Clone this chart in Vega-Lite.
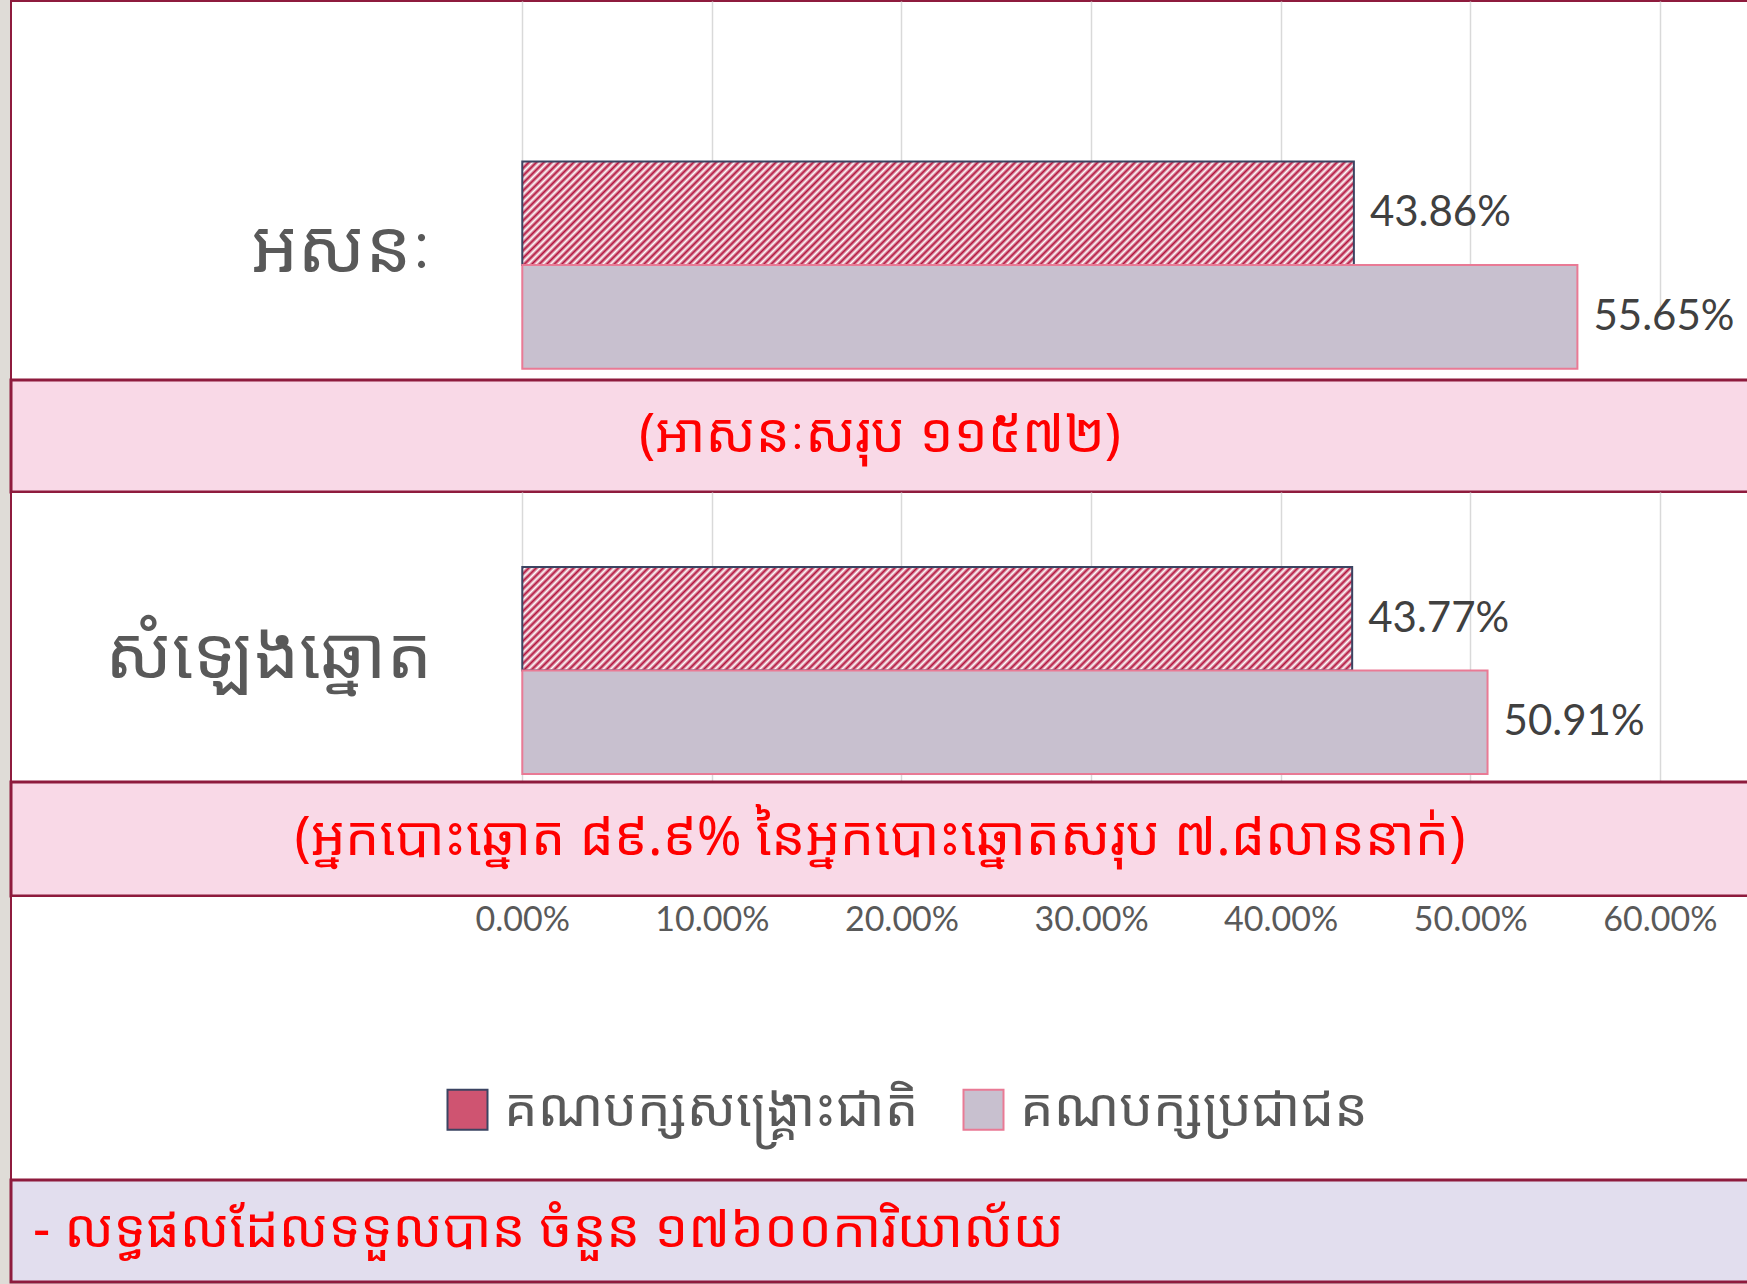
{
  "$schema": "https://vega.github.io/schema/vega-lite/v6.json",
  "background": "#dfdcd7",
  "padding": {"left": 9, "top": 0, "right": 0, "bottom": 0},
  "spacing": 0,
  "bounds": "flush",
  "datasets": {
    "results": [
      {"category": "អសនៈ", "party": "គណបក្សសង្គ្រោះជាតិ", "share": 0.4386},
      {"category": "អសនៈ", "party": "គណបក្សប្រជាជន", "share": 0.5565},
      {"category": "សំឡេងឆ្នោត", "party": "គណបក្សសង្គ្រោះជាតិ", "share": 0.4377},
      {"category": "សំឡេងឆ្នោត", "party": "គណបក្សប្រជាជន", "share": 0.5091}
    ],
    "notes": [
      {"slot": "seats", "text": "(អាសនៈសរុប ១១៥៧២)"},
      {"slot": "votes", "text": "(អ្នកបោះឆ្នោត ៨៩.៩% នៃអ្នកបោះឆ្នោតសរុប ៧.៨លាននាក់)"},
      {"slot": "footer", "text": "- លទ្ធផលដែលទទួលបាន ចំនួន ១៧៦០០ការិយាល័យ"}
    ]
  },
  "vconcat": [
    {
      "width": 1738,
      "height": 379,
      "view": {"fill": "#ffffff", "stroke": "#8e1b3d", "strokeWidth": 2},
      "data": {"name": "results"},
      "transform": [{"filter": "datum.category === 'អសនៈ'"}],
      "encoding": {
        "y": {"field": "party", "type": "nominal", "axis": null,
          "scale": {"domain": ["គណបក្សសង្គ្រោះជាតិ", "គណបក្សប្រជាជន"], "range": [63.5, 379], "paddingInner": 0, "paddingOuter": 0.522, "align": 0.896}},
        "x": {"field": "share", "type": "quantitative",
          "scale": {"domain": [-0.26967, 0.647], "nice": false},
          "axis": {"values": [0, 0.1, 0.2, 0.3, 0.4, 0.5, 0.6], "grid": true, "labels": false, "ticks": false, "domain": false, "title": null, "gridColor": "#d9d9d9", "gridWidth": 1.5}}
      },
      "layer": [
        {
          "transform": [{"filter": "datum.party === 'គណបក្សសង្គ្រោះជាតិ'"}],
          "mark": {"type": "bar", "strokeWidth": 2,
            "fill": {
              "gradient": "linear", "x1": 0, "y1": 0, "x2": 1.1074, "y2": 0.138,
              "stops": [
                {"offset":0,"color":"#b3123c"},{"offset":0.004,"color":"#fff"},{"offset":0.008,"color":"#b3123c"},{"offset":0.012,"color":"#fff"},{"offset":0.016,"color":"#b3123c"},{"offset":0.02,"color":"#fff"},{"offset":0.024,"color":"#b3123c"},{"offset":0.028,"color":"#fff"},{"offset":0.032,"color":"#b3123c"},{"offset":0.036,"color":"#fff"},
                {"offset":0.04,"color":"#b3123c"},{"offset":0.044,"color":"#fff"},{"offset":0.048,"color":"#b3123c"},{"offset":0.052,"color":"#fff"},{"offset":0.056,"color":"#b3123c"},{"offset":0.06,"color":"#fff"},{"offset":0.064,"color":"#b3123c"},{"offset":0.068,"color":"#fff"},{"offset":0.072,"color":"#b3123c"},{"offset":0.076,"color":"#fff"},
                {"offset":0.08,"color":"#b3123c"},{"offset":0.084,"color":"#fff"},{"offset":0.088,"color":"#b3123c"},{"offset":0.092,"color":"#fff"},{"offset":0.096,"color":"#b3123c"},{"offset":0.1,"color":"#fff"},{"offset":0.104,"color":"#b3123c"},{"offset":0.108,"color":"#fff"},{"offset":0.112,"color":"#b3123c"},{"offset":0.116,"color":"#fff"},
                {"offset":0.12,"color":"#b3123c"},{"offset":0.124,"color":"#fff"},{"offset":0.128,"color":"#b3123c"},{"offset":0.132,"color":"#fff"},{"offset":0.136,"color":"#b3123c"},{"offset":0.14,"color":"#fff"},{"offset":0.144,"color":"#b3123c"},{"offset":0.148,"color":"#fff"},{"offset":0.152,"color":"#b3123c"},{"offset":0.156,"color":"#fff"},
                {"offset":0.16,"color":"#b3123c"},{"offset":0.164,"color":"#fff"},{"offset":0.168,"color":"#b3123c"},{"offset":0.172,"color":"#fff"},{"offset":0.176,"color":"#b3123c"},{"offset":0.18,"color":"#fff"},{"offset":0.184,"color":"#b3123c"},{"offset":0.188,"color":"#fff"},{"offset":0.192,"color":"#b3123c"},{"offset":0.196,"color":"#fff"},
                {"offset":0.2,"color":"#b3123c"},{"offset":0.204,"color":"#fff"},{"offset":0.208,"color":"#b3123c"},{"offset":0.212,"color":"#fff"},{"offset":0.216,"color":"#b3123c"},{"offset":0.22,"color":"#fff"},{"offset":0.224,"color":"#b3123c"},{"offset":0.228,"color":"#fff"},{"offset":0.232,"color":"#b3123c"},{"offset":0.236,"color":"#fff"},
                {"offset":0.24,"color":"#b3123c"},{"offset":0.244,"color":"#fff"},{"offset":0.248,"color":"#b3123c"},{"offset":0.252,"color":"#fff"},{"offset":0.256,"color":"#b3123c"},{"offset":0.26,"color":"#fff"},{"offset":0.264,"color":"#b3123c"},{"offset":0.268,"color":"#fff"},{"offset":0.272,"color":"#b3123c"},{"offset":0.276,"color":"#fff"},
                {"offset":0.28,"color":"#b3123c"},{"offset":0.284,"color":"#fff"},{"offset":0.288,"color":"#b3123c"},{"offset":0.292,"color":"#fff"},{"offset":0.296,"color":"#b3123c"},{"offset":0.3,"color":"#fff"},{"offset":0.304,"color":"#b3123c"},{"offset":0.308,"color":"#fff"},{"offset":0.312,"color":"#b3123c"},{"offset":0.316,"color":"#fff"},
                {"offset":0.32,"color":"#b3123c"},{"offset":0.324,"color":"#fff"},{"offset":0.328,"color":"#b3123c"},{"offset":0.332,"color":"#fff"},{"offset":0.336,"color":"#b3123c"},{"offset":0.34,"color":"#fff"},{"offset":0.344,"color":"#b3123c"},{"offset":0.348,"color":"#fff"},{"offset":0.352,"color":"#b3123c"},{"offset":0.356,"color":"#fff"},
                {"offset":0.36,"color":"#b3123c"},{"offset":0.364,"color":"#fff"},{"offset":0.368,"color":"#b3123c"},{"offset":0.372,"color":"#fff"},{"offset":0.376,"color":"#b3123c"},{"offset":0.38,"color":"#fff"},{"offset":0.384,"color":"#b3123c"},{"offset":0.388,"color":"#fff"},{"offset":0.392,"color":"#b3123c"},{"offset":0.396,"color":"#fff"},
                {"offset":0.4,"color":"#b3123c"},{"offset":0.404,"color":"#fff"},{"offset":0.408,"color":"#b3123c"},{"offset":0.412,"color":"#fff"},{"offset":0.416,"color":"#b3123c"},{"offset":0.42,"color":"#fff"},{"offset":0.424,"color":"#b3123c"},{"offset":0.428,"color":"#fff"},{"offset":0.432,"color":"#b3123c"},{"offset":0.436,"color":"#fff"},
                {"offset":0.44,"color":"#b3123c"},{"offset":0.444,"color":"#fff"},{"offset":0.448,"color":"#b3123c"},{"offset":0.452,"color":"#fff"},{"offset":0.456,"color":"#b3123c"},{"offset":0.46,"color":"#fff"},{"offset":0.464,"color":"#b3123c"},{"offset":0.468,"color":"#fff"},{"offset":0.472,"color":"#b3123c"},{"offset":0.476,"color":"#fff"},
                {"offset":0.48,"color":"#b3123c"},{"offset":0.484,"color":"#fff"},{"offset":0.488,"color":"#b3123c"},{"offset":0.492,"color":"#fff"},{"offset":0.496,"color":"#b3123c"},{"offset":0.5,"color":"#fff"},{"offset":0.504,"color":"#b3123c"},{"offset":0.508,"color":"#fff"},{"offset":0.512,"color":"#b3123c"},{"offset":0.516,"color":"#fff"},
                {"offset":0.52,"color":"#b3123c"},{"offset":0.524,"color":"#fff"},{"offset":0.528,"color":"#b3123c"},{"offset":0.532,"color":"#fff"},{"offset":0.536,"color":"#b3123c"},{"offset":0.54,"color":"#fff"},{"offset":0.544,"color":"#b3123c"},{"offset":0.548,"color":"#fff"},{"offset":0.552,"color":"#b3123c"},{"offset":0.556,"color":"#fff"},
                {"offset":0.56,"color":"#b3123c"},{"offset":0.564,"color":"#fff"},{"offset":0.568,"color":"#b3123c"},{"offset":0.572,"color":"#fff"},{"offset":0.576,"color":"#b3123c"},{"offset":0.58,"color":"#fff"},{"offset":0.584,"color":"#b3123c"},{"offset":0.588,"color":"#fff"},{"offset":0.592,"color":"#b3123c"},{"offset":0.596,"color":"#fff"},
                {"offset":0.6,"color":"#b3123c"},{"offset":0.604,"color":"#fff"},{"offset":0.608,"color":"#b3123c"},{"offset":0.612,"color":"#fff"},{"offset":0.616,"color":"#b3123c"},{"offset":0.62,"color":"#fff"},{"offset":0.624,"color":"#b3123c"},{"offset":0.628,"color":"#fff"},{"offset":0.632,"color":"#b3123c"},{"offset":0.636,"color":"#fff"},
                {"offset":0.64,"color":"#b3123c"},{"offset":0.644,"color":"#fff"},{"offset":0.648,"color":"#b3123c"},{"offset":0.652,"color":"#fff"},{"offset":0.656,"color":"#b3123c"},{"offset":0.66,"color":"#fff"},{"offset":0.664,"color":"#b3123c"},{"offset":0.668,"color":"#fff"},{"offset":0.672,"color":"#b3123c"},{"offset":0.676,"color":"#fff"},
                {"offset":0.68,"color":"#b3123c"},{"offset":0.684,"color":"#fff"},{"offset":0.688,"color":"#b3123c"},{"offset":0.692,"color":"#fff"},{"offset":0.696,"color":"#b3123c"},{"offset":0.7,"color":"#fff"},{"offset":0.704,"color":"#b3123c"},{"offset":0.708,"color":"#fff"},{"offset":0.712,"color":"#b3123c"},{"offset":0.716,"color":"#fff"},
                {"offset":0.72,"color":"#b3123c"},{"offset":0.724,"color":"#fff"},{"offset":0.728,"color":"#b3123c"},{"offset":0.732,"color":"#fff"},{"offset":0.736,"color":"#b3123c"},{"offset":0.74,"color":"#fff"},{"offset":0.744,"color":"#b3123c"},{"offset":0.748,"color":"#fff"},{"offset":0.752,"color":"#b3123c"},{"offset":0.756,"color":"#fff"},
                {"offset":0.76,"color":"#b3123c"},{"offset":0.764,"color":"#fff"},{"offset":0.768,"color":"#b3123c"},{"offset":0.772,"color":"#fff"},{"offset":0.776,"color":"#b3123c"},{"offset":0.78,"color":"#fff"},{"offset":0.784,"color":"#b3123c"},{"offset":0.788,"color":"#fff"},{"offset":0.792,"color":"#b3123c"},{"offset":0.796,"color":"#fff"},
                {"offset":0.8,"color":"#b3123c"},{"offset":0.804,"color":"#fff"},{"offset":0.808,"color":"#b3123c"},{"offset":0.812,"color":"#fff"},{"offset":0.816,"color":"#b3123c"},{"offset":0.82,"color":"#fff"},{"offset":0.824,"color":"#b3123c"},{"offset":0.828,"color":"#fff"},{"offset":0.832,"color":"#b3123c"},{"offset":0.836,"color":"#fff"},
                {"offset":0.84,"color":"#b3123c"},{"offset":0.844,"color":"#fff"},{"offset":0.848,"color":"#b3123c"},{"offset":0.852,"color":"#fff"},{"offset":0.856,"color":"#b3123c"},{"offset":0.86,"color":"#fff"},{"offset":0.864,"color":"#b3123c"},{"offset":0.868,"color":"#fff"},{"offset":0.872,"color":"#b3123c"},{"offset":0.876,"color":"#fff"},
                {"offset":0.88,"color":"#b3123c"},{"offset":0.884,"color":"#fff"},{"offset":0.888,"color":"#b3123c"},{"offset":0.892,"color":"#fff"},{"offset":0.896,"color":"#b3123c"},{"offset":0.9,"color":"#fff"},{"offset":0.904,"color":"#b3123c"},{"offset":0.908,"color":"#fff"},{"offset":0.912,"color":"#b3123c"},{"offset":0.916,"color":"#fff"},
                {"offset":0.92,"color":"#b3123c"},{"offset":0.924,"color":"#fff"},{"offset":0.928,"color":"#b3123c"},{"offset":0.932,"color":"#fff"},{"offset":0.936,"color":"#b3123c"},{"offset":0.94,"color":"#fff"},{"offset":0.944,"color":"#b3123c"},{"offset":0.948,"color":"#fff"},{"offset":0.952,"color":"#b3123c"},{"offset":0.956,"color":"#fff"},
                {"offset":0.96,"color":"#b3123c"},{"offset":0.964,"color":"#fff"},{"offset":0.968,"color":"#b3123c"},{"offset":0.972,"color":"#fff"},{"offset":0.976,"color":"#b3123c"},{"offset":0.98,"color":"#fff"},{"offset":0.984,"color":"#b3123c"},{"offset":0.988,"color":"#fff"},{"offset":0.992,"color":"#b3123c"},{"offset":0.996,"color":"#fff"},
                {"offset":1,"color":"#b3123c"}
              ]
            }
          },
          "encoding": {
            "stroke": {"field": "party", "type": "nominal",
              "scale": {"domain": ["គណបក្សសង្គ្រោះជាតិ", "គណបក្សប្រជាជន"], "range": ["#3b4462", "#e97a95"]},
              "legend": {"orient": "none", "legendX": 430, "legendY": 1082, "direction": "horizontal", "title": null, "symbolType": "square", "symbolSize": 1600, "symbolStrokeWidth": 2, "symbolOpacity": 1, "labelFont": "Noto Sans Khmer, Noto Serif Khmer, Khmer OS, Hanuman, sans-serif", "labelFontSize": 53, "labelColor": "#595959", "labelLimit": 1000, "labelOffset": 10, "columnPadding": 38, "padding": 0}}
          }
        },
        {
          "transform": [{"filter": "datum.party === 'គណបក្សប្រជាជន'"}],
          "mark": {"type": "bar", "strokeWidth": 2},
          "encoding": {
            "fill": {"field": "party", "type": "nominal",
              "scale": {"domain": ["គណបក្សសង្គ្រោះជាតិ", "គណបក្សប្រជាជន"], "range": ["#cf5471", "#c8c0cf"]},
              "legend": {"orient": "none", "legendX": 430, "legendY": 1082, "direction": "horizontal", "title": null, "symbolType": "square", "symbolSize": 1600, "symbolStrokeWidth": 2, "symbolOpacity": 1, "labelFont": "Noto Sans Khmer, Noto Serif Khmer, Khmer OS, Hanuman, sans-serif", "labelFontSize": 53, "labelColor": "#595959", "labelLimit": 1000, "labelOffset": 10, "columnPadding": 38, "padding": 0}},
            "stroke": {"field": "party", "type": "nominal"}
          }
        },
        {
          "mark": {"type": "text", "align": "left", "baseline": "middle", "dx": 16, "font": "Lato", "fontSize": 42, "color": "#404040"},
          "encoding": {"text": {"field": "share", "type": "quantitative", "format": ".2%"}}
        },
        {
          "transform": [{"filter": "datum.party === 'គណបក្សសង្គ្រោះជាតិ'"}],
          "mark": {"type": "text", "align": "right", "baseline": "middle", "dx": -90, "dy": -15, "font": "Noto Sans Khmer, Noto Serif Khmer, Khmer OS, Hanuman, sans-serif", "fontSize": 73, "color": "#595959"},
          "encoding": {
            "x": {"datum": 0, "type": "quantitative"},
            "y": {"field": "party", "type": "nominal", "bandPosition": 1, "axis": null},
            "text": {"field": "category", "type": "nominal"}
          }
        }
      ]
    },
    {
      "width": 1738,
      "height": 112,
      "view": {"fill": "#f9d9e7", "stroke": "#8e1b3d", "strokeWidth": 3},
      "data": {"name": "notes"},
      "transform": [{"filter": "datum.slot === 'seats'"}],
      "mark": {"type": "text", "align": "center", "baseline": "middle", "font": "Noto Sans Khmer, Noto Serif Khmer, Khmer OS, Hanuman, sans-serif", "fontSize": 54, "color": "#ff0000"},
      "encoding": {"text": {"field": "text", "type": "nominal"}}
    },
    {
      "width": 1738,
      "height": 290,
      "view": {"fill": "#ffffff", "stroke": "#8e1b3d", "strokeWidth": 2},
      "data": {"name": "results"},
      "transform": [{"filter": "datum.category === 'សំឡេងឆ្នោត'"}],
      "encoding": {
        "y": {"field": "party", "type": "nominal", "axis": null,
          "scale": {"domain": ["គណបក្សសង្គ្រោះជាតិ", "គណបក្សប្រជាជន"], "paddingInner": 0, "paddingOuter": 0.401, "align": 0.9036}},
        "x": {"field": "share", "type": "quantitative",
          "scale": {"domain": [-0.26967, 0.647], "nice": false},
          "axis": {"values": [0, 0.1, 0.2, 0.3, 0.4, 0.5, 0.6], "grid": true, "labels": false, "ticks": false, "domain": false, "title": null, "gridColor": "#d9d9d9", "gridWidth": 1.5}}
      },
      "layer": [
        {
          "transform": [{"filter": "datum.party === 'គណបក្សសង្គ្រោះជាតិ'"}],
          "mark": {"type": "bar", "strokeWidth": 2,
            "fill": {
              "gradient": "linear", "x1": 0, "y1": 0, "x2": 1.1074, "y2": 0.138,
              "stops": [
                {"offset":0,"color":"#b3123c"},{"offset":0.004,"color":"#fff"},{"offset":0.008,"color":"#b3123c"},{"offset":0.012,"color":"#fff"},{"offset":0.016,"color":"#b3123c"},{"offset":0.02,"color":"#fff"},{"offset":0.024,"color":"#b3123c"},{"offset":0.028,"color":"#fff"},{"offset":0.032,"color":"#b3123c"},{"offset":0.036,"color":"#fff"},
                {"offset":0.04,"color":"#b3123c"},{"offset":0.044,"color":"#fff"},{"offset":0.048,"color":"#b3123c"},{"offset":0.052,"color":"#fff"},{"offset":0.056,"color":"#b3123c"},{"offset":0.06,"color":"#fff"},{"offset":0.064,"color":"#b3123c"},{"offset":0.068,"color":"#fff"},{"offset":0.072,"color":"#b3123c"},{"offset":0.076,"color":"#fff"},
                {"offset":0.08,"color":"#b3123c"},{"offset":0.084,"color":"#fff"},{"offset":0.088,"color":"#b3123c"},{"offset":0.092,"color":"#fff"},{"offset":0.096,"color":"#b3123c"},{"offset":0.1,"color":"#fff"},{"offset":0.104,"color":"#b3123c"},{"offset":0.108,"color":"#fff"},{"offset":0.112,"color":"#b3123c"},{"offset":0.116,"color":"#fff"},
                {"offset":0.12,"color":"#b3123c"},{"offset":0.124,"color":"#fff"},{"offset":0.128,"color":"#b3123c"},{"offset":0.132,"color":"#fff"},{"offset":0.136,"color":"#b3123c"},{"offset":0.14,"color":"#fff"},{"offset":0.144,"color":"#b3123c"},{"offset":0.148,"color":"#fff"},{"offset":0.152,"color":"#b3123c"},{"offset":0.156,"color":"#fff"},
                {"offset":0.16,"color":"#b3123c"},{"offset":0.164,"color":"#fff"},{"offset":0.168,"color":"#b3123c"},{"offset":0.172,"color":"#fff"},{"offset":0.176,"color":"#b3123c"},{"offset":0.18,"color":"#fff"},{"offset":0.184,"color":"#b3123c"},{"offset":0.188,"color":"#fff"},{"offset":0.192,"color":"#b3123c"},{"offset":0.196,"color":"#fff"},
                {"offset":0.2,"color":"#b3123c"},{"offset":0.204,"color":"#fff"},{"offset":0.208,"color":"#b3123c"},{"offset":0.212,"color":"#fff"},{"offset":0.216,"color":"#b3123c"},{"offset":0.22,"color":"#fff"},{"offset":0.224,"color":"#b3123c"},{"offset":0.228,"color":"#fff"},{"offset":0.232,"color":"#b3123c"},{"offset":0.236,"color":"#fff"},
                {"offset":0.24,"color":"#b3123c"},{"offset":0.244,"color":"#fff"},{"offset":0.248,"color":"#b3123c"},{"offset":0.252,"color":"#fff"},{"offset":0.256,"color":"#b3123c"},{"offset":0.26,"color":"#fff"},{"offset":0.264,"color":"#b3123c"},{"offset":0.268,"color":"#fff"},{"offset":0.272,"color":"#b3123c"},{"offset":0.276,"color":"#fff"},
                {"offset":0.28,"color":"#b3123c"},{"offset":0.284,"color":"#fff"},{"offset":0.288,"color":"#b3123c"},{"offset":0.292,"color":"#fff"},{"offset":0.296,"color":"#b3123c"},{"offset":0.3,"color":"#fff"},{"offset":0.304,"color":"#b3123c"},{"offset":0.308,"color":"#fff"},{"offset":0.312,"color":"#b3123c"},{"offset":0.316,"color":"#fff"},
                {"offset":0.32,"color":"#b3123c"},{"offset":0.324,"color":"#fff"},{"offset":0.328,"color":"#b3123c"},{"offset":0.332,"color":"#fff"},{"offset":0.336,"color":"#b3123c"},{"offset":0.34,"color":"#fff"},{"offset":0.344,"color":"#b3123c"},{"offset":0.348,"color":"#fff"},{"offset":0.352,"color":"#b3123c"},{"offset":0.356,"color":"#fff"},
                {"offset":0.36,"color":"#b3123c"},{"offset":0.364,"color":"#fff"},{"offset":0.368,"color":"#b3123c"},{"offset":0.372,"color":"#fff"},{"offset":0.376,"color":"#b3123c"},{"offset":0.38,"color":"#fff"},{"offset":0.384,"color":"#b3123c"},{"offset":0.388,"color":"#fff"},{"offset":0.392,"color":"#b3123c"},{"offset":0.396,"color":"#fff"},
                {"offset":0.4,"color":"#b3123c"},{"offset":0.404,"color":"#fff"},{"offset":0.408,"color":"#b3123c"},{"offset":0.412,"color":"#fff"},{"offset":0.416,"color":"#b3123c"},{"offset":0.42,"color":"#fff"},{"offset":0.424,"color":"#b3123c"},{"offset":0.428,"color":"#fff"},{"offset":0.432,"color":"#b3123c"},{"offset":0.436,"color":"#fff"},
                {"offset":0.44,"color":"#b3123c"},{"offset":0.444,"color":"#fff"},{"offset":0.448,"color":"#b3123c"},{"offset":0.452,"color":"#fff"},{"offset":0.456,"color":"#b3123c"},{"offset":0.46,"color":"#fff"},{"offset":0.464,"color":"#b3123c"},{"offset":0.468,"color":"#fff"},{"offset":0.472,"color":"#b3123c"},{"offset":0.476,"color":"#fff"},
                {"offset":0.48,"color":"#b3123c"},{"offset":0.484,"color":"#fff"},{"offset":0.488,"color":"#b3123c"},{"offset":0.492,"color":"#fff"},{"offset":0.496,"color":"#b3123c"},{"offset":0.5,"color":"#fff"},{"offset":0.504,"color":"#b3123c"},{"offset":0.508,"color":"#fff"},{"offset":0.512,"color":"#b3123c"},{"offset":0.516,"color":"#fff"},
                {"offset":0.52,"color":"#b3123c"},{"offset":0.524,"color":"#fff"},{"offset":0.528,"color":"#b3123c"},{"offset":0.532,"color":"#fff"},{"offset":0.536,"color":"#b3123c"},{"offset":0.54,"color":"#fff"},{"offset":0.544,"color":"#b3123c"},{"offset":0.548,"color":"#fff"},{"offset":0.552,"color":"#b3123c"},{"offset":0.556,"color":"#fff"},
                {"offset":0.56,"color":"#b3123c"},{"offset":0.564,"color":"#fff"},{"offset":0.568,"color":"#b3123c"},{"offset":0.572,"color":"#fff"},{"offset":0.576,"color":"#b3123c"},{"offset":0.58,"color":"#fff"},{"offset":0.584,"color":"#b3123c"},{"offset":0.588,"color":"#fff"},{"offset":0.592,"color":"#b3123c"},{"offset":0.596,"color":"#fff"},
                {"offset":0.6,"color":"#b3123c"},{"offset":0.604,"color":"#fff"},{"offset":0.608,"color":"#b3123c"},{"offset":0.612,"color":"#fff"},{"offset":0.616,"color":"#b3123c"},{"offset":0.62,"color":"#fff"},{"offset":0.624,"color":"#b3123c"},{"offset":0.628,"color":"#fff"},{"offset":0.632,"color":"#b3123c"},{"offset":0.636,"color":"#fff"},
                {"offset":0.64,"color":"#b3123c"},{"offset":0.644,"color":"#fff"},{"offset":0.648,"color":"#b3123c"},{"offset":0.652,"color":"#fff"},{"offset":0.656,"color":"#b3123c"},{"offset":0.66,"color":"#fff"},{"offset":0.664,"color":"#b3123c"},{"offset":0.668,"color":"#fff"},{"offset":0.672,"color":"#b3123c"},{"offset":0.676,"color":"#fff"},
                {"offset":0.68,"color":"#b3123c"},{"offset":0.684,"color":"#fff"},{"offset":0.688,"color":"#b3123c"},{"offset":0.692,"color":"#fff"},{"offset":0.696,"color":"#b3123c"},{"offset":0.7,"color":"#fff"},{"offset":0.704,"color":"#b3123c"},{"offset":0.708,"color":"#fff"},{"offset":0.712,"color":"#b3123c"},{"offset":0.716,"color":"#fff"},
                {"offset":0.72,"color":"#b3123c"},{"offset":0.724,"color":"#fff"},{"offset":0.728,"color":"#b3123c"},{"offset":0.732,"color":"#fff"},{"offset":0.736,"color":"#b3123c"},{"offset":0.74,"color":"#fff"},{"offset":0.744,"color":"#b3123c"},{"offset":0.748,"color":"#fff"},{"offset":0.752,"color":"#b3123c"},{"offset":0.756,"color":"#fff"},
                {"offset":0.76,"color":"#b3123c"},{"offset":0.764,"color":"#fff"},{"offset":0.768,"color":"#b3123c"},{"offset":0.772,"color":"#fff"},{"offset":0.776,"color":"#b3123c"},{"offset":0.78,"color":"#fff"},{"offset":0.784,"color":"#b3123c"},{"offset":0.788,"color":"#fff"},{"offset":0.792,"color":"#b3123c"},{"offset":0.796,"color":"#fff"},
                {"offset":0.8,"color":"#b3123c"},{"offset":0.804,"color":"#fff"},{"offset":0.808,"color":"#b3123c"},{"offset":0.812,"color":"#fff"},{"offset":0.816,"color":"#b3123c"},{"offset":0.82,"color":"#fff"},{"offset":0.824,"color":"#b3123c"},{"offset":0.828,"color":"#fff"},{"offset":0.832,"color":"#b3123c"},{"offset":0.836,"color":"#fff"},
                {"offset":0.84,"color":"#b3123c"},{"offset":0.844,"color":"#fff"},{"offset":0.848,"color":"#b3123c"},{"offset":0.852,"color":"#fff"},{"offset":0.856,"color":"#b3123c"},{"offset":0.86,"color":"#fff"},{"offset":0.864,"color":"#b3123c"},{"offset":0.868,"color":"#fff"},{"offset":0.872,"color":"#b3123c"},{"offset":0.876,"color":"#fff"},
                {"offset":0.88,"color":"#b3123c"},{"offset":0.884,"color":"#fff"},{"offset":0.888,"color":"#b3123c"},{"offset":0.892,"color":"#fff"},{"offset":0.896,"color":"#b3123c"},{"offset":0.9,"color":"#fff"},{"offset":0.904,"color":"#b3123c"},{"offset":0.908,"color":"#fff"},{"offset":0.912,"color":"#b3123c"},{"offset":0.916,"color":"#fff"},
                {"offset":0.92,"color":"#b3123c"},{"offset":0.924,"color":"#fff"},{"offset":0.928,"color":"#b3123c"},{"offset":0.932,"color":"#fff"},{"offset":0.936,"color":"#b3123c"},{"offset":0.94,"color":"#fff"},{"offset":0.944,"color":"#b3123c"},{"offset":0.948,"color":"#fff"},{"offset":0.952,"color":"#b3123c"},{"offset":0.956,"color":"#fff"},
                {"offset":0.96,"color":"#b3123c"},{"offset":0.964,"color":"#fff"},{"offset":0.968,"color":"#b3123c"},{"offset":0.972,"color":"#fff"},{"offset":0.976,"color":"#b3123c"},{"offset":0.98,"color":"#fff"},{"offset":0.984,"color":"#b3123c"},{"offset":0.988,"color":"#fff"},{"offset":0.992,"color":"#b3123c"},{"offset":0.996,"color":"#fff"},
                {"offset":1,"color":"#b3123c"}
              ]
            }
          },
          "encoding": {"stroke": {"field": "party", "type": "nominal"}}
        },
        {
          "transform": [{"filter": "datum.party === 'គណបក្សប្រជាជន'"}],
          "mark": {"type": "bar", "strokeWidth": 2},
          "encoding": {
            "fill": {"field": "party", "type": "nominal"},
            "stroke": {"field": "party", "type": "nominal"}
          }
        },
        {
          "mark": {"type": "text", "align": "left", "baseline": "middle", "dx": 16, "font": "Lato", "fontSize": 42, "color": "#404040"},
          "encoding": {"text": {"field": "share", "type": "quantitative", "format": ".2%"}}
        },
        {
          "transform": [{"filter": "datum.party === 'គណបក្សសង្គ្រោះជាតិ'"}],
          "mark": {"type": "text", "align": "right", "baseline": "middle", "dx": -90, "dy": -15, "font": "Noto Sans Khmer, Noto Serif Khmer, Khmer OS, Hanuman, sans-serif", "fontSize": 72, "color": "#595959"},
          "encoding": {
            "x": {"datum": 0, "type": "quantitative"},
            "y": {"field": "party", "type": "nominal", "bandPosition": 1, "axis": null},
            "text": {"field": "category", "type": "nominal"}
          }
        }
      ]
    },
    {
      "width": 1738,
      "height": 114,
      "view": {"fill": "#f9d9e7", "stroke": "#8e1b3d", "strokeWidth": 3},
      "data": {"name": "notes"},
      "transform": [{"filter": "datum.slot === 'votes'"}],
      "mark": {"type": "text", "align": "center", "baseline": "middle", "font": "Noto Sans Khmer, Noto Serif Khmer, Khmer OS, Hanuman, sans-serif", "fontSize": 54, "color": "#ff0000"},
      "encoding": {"text": {"field": "text", "type": "nominal"}}
    },
    {
      "width": 1738,
      "height": 284,
      "view": {"fill": "#ffffff", "stroke": "#8e1b3d", "strokeWidth": 2},
      "data": {"name": "results"},
      "mark": {"type": "rule", "opacity": 0},
      "encoding": {
        "x": {"field": "share", "type": "quantitative",
          "scale": {"domain": [-0.26967, 0.647], "nice": false},
          "axis": {"orient": "top", "values": [0, 0.1, 0.2, 0.3, 0.4, 0.5, 0.6], "format": ".2%", "grid": false, "ticks": false, "domain": false, "title": null, "labelPadding": -24, "labelBaseline": "middle", "labelFont": "Lato", "labelFontSize": 34, "labelColor": "#595959", "labelFlush": false, "labelOverlap": false}}
      }
    },
    {
      "width": 1738,
      "height": 102,
      "view": {"fill": "#e2deee", "stroke": "#8e1b3d", "strokeWidth": 3},
      "data": {"name": "notes"},
      "transform": [{"filter": "datum.slot === 'footer'"}],
      "mark": {"type": "text", "align": "left", "baseline": "middle", "dx": 22, "font": "Noto Sans Khmer, Noto Serif Khmer, Khmer OS, Hanuman, sans-serif", "fontSize": 53.5, "color": "#ff0000"},
      "encoding": {
        "x": {"datum": 0, "type": "quantitative", "scale": {"domain": [0, 1]}, "axis": null},
        "text": {"field": "text", "type": "nominal"}
      }
    }
  ],
  "config": {
    "view": {"stroke": null},
    "font": "Lato"
  }
}
